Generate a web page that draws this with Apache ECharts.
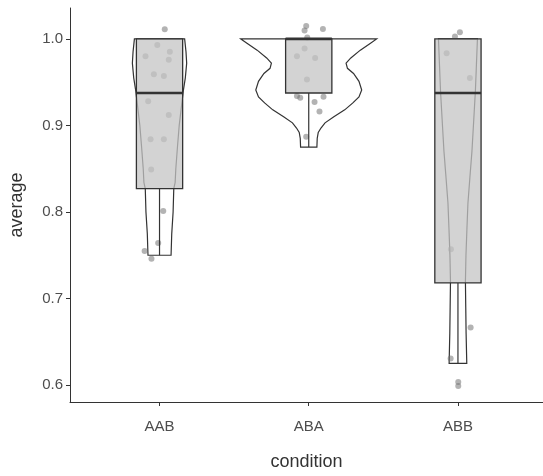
<!DOCTYPE html>
<html>
<head>
<meta charset="utf-8">
<script src="https://cdn.jsdelivr.net/npm/echarts@6/dist/echarts.min.js"></script>
<style>
  html, body { margin: 0; padding: 0; background: #fff; }
  #main { width: 543px; height: 476px; }
</style>
</head>
<body>
<div id="main"></div>
<script type="text/javascript">
    // 数据
    var categories = ['AAB', 'ABA', 'ABB'];
    var yTicks = [0.6, 0.7, 0.8, 0.9, 1.0];

    // box stats per condition
    var boxLower = [0.75, 0.875, 0.625];
    var boxQ1 = [0.827, 0.9375, 0.718];
    var boxMedian = [0.9375, 1.0, 0.9375];
    var boxQ3 = [1.0, 1.0, 1.0];
    var boxUpper = [1.0, 1.0, 1.0];

    // violin profiles: [value, relative density] from top to bottom
    var violinAAB = [[1.0, 0.37], [0.985, 0.39], [0.972, 0.40], [0.955, 0.38], [0.94, 0.35], [0.92, 0.32],
        [0.9, 0.29], [0.876, 0.265], [0.85, 0.24], [0.834, 0.23], [0.827, 0.21], [0.8, 0.20], [0.775, 0.18], [0.75, 0.17]];
    var violinABA = [[1.0, 1.0], [0.995, 0.91], [0.987, 0.76], [0.978, 0.62], [0.972, 0.55], [0.966, 0.57],
        [0.96, 0.66], [0.951, 0.74], [0.941, 0.78], [0.933, 0.74], [0.926, 0.65], [0.918, 0.53], [0.91, 0.37],
        [0.903, 0.24], [0.897, 0.18], [0.892, 0.14], [0.885, 0.125], [0.875, 0.12]];
    var violinABB = [[1.0, 0.287], [0.97, 0.272], [0.94, 0.257], [0.9, 0.228], [0.87, 0.206], [0.84, 0.176],
        [0.81, 0.147], [0.78, 0.132], [0.75, 0.118], [0.72, 0.11], [0.69, 0.115], [0.66, 0.12], [0.625, 0.13]];

    // jittered points [x, average]
    var pointsAAB = [[1.035, 1.011], [0.985, 0.993], [1.069, 0.985], [0.906, 0.980], [1.062, 0.976],
        [0.962, 0.959], [1.029, 0.957], [0.924, 0.928], [1.062, 0.912], [0.94, 0.884], [1.029, 0.884],
        [0.944, 0.849], [1.025, 0.801], [0.991, 0.764], [0.90, 0.755], [0.946, 0.746]];
    var pointsABA = [[1.983, 1.015], [1.972, 1.0096], [2.095, 1.0115], [1.99, 1.0015], [1.972, 0.989],
        [1.921, 0.980], [2.043, 0.978], [1.988, 0.953], [1.921, 0.934], [1.943, 0.932], [2.099, 0.933],
        [2.039, 0.927], [2.072, 0.916], [1.983, 0.887]];
    var pointsABB = [[3.013, 1.0077], [2.98, 1.0027], [2.924, 0.9835], [3.08, 0.9547], [2.953, 0.7568],
        [3.085, 0.6665], [2.951, 0.6308], [3.002, 0.6035], [3.002, 0.599]];

    var violins = [violinAAB, violinABA, violinABB];
    var maxHalf = 0.455;
    var boxHalf = 0.155;

    var myChart = echarts.init(document.getElementById('main'));
    var axisColor = '#333';
    var option = {
        animation: false,
        grid: { left: 69, right: 0, top: 8, bottom: 73 },
        xAxis: {
            type: 'value',
            min: 0.4,
            max: 3.57,
            name: 'condition',
            nameLocation: 'middle',
            nameGap: 51,
            nameTextStyle: { fontFamily: 'Liberation Sans', fontSize: 18, color: '#333' },
            axisLine: { show: true, onZero: false, lineStyle: { color: axisColor, width: 1 } },
            axisTick: { show: true, length: 4, customValues: [1, 2, 3], lineStyle: { color: axisColor } },
            axisLabel: {
                customValues: [1, 2, 3],
                margin: 17,
                fontFamily: 'Liberation Sans', fontSize: 15, color: '#4d4d4d',
                formatter: function (v) { return categories[Math.round(v) - 1]; }
            },
            splitLine: { show: false }
        },
        yAxis: {
            type: 'value',
            min: 0.5804,
            max: 1.0357,
            name: 'average',
            nameLocation: 'middle',
            nameGap: 44,
            nameTextStyle: { fontFamily: 'Liberation Sans', fontSize: 18, color: '#333' },
            axisLine: { show: true, onZero: false, lineStyle: { color: axisColor, width: 1 } },
            axisTick: { show: true, length: 4, customValues: yTicks, lineStyle: { color: axisColor } },
            axisLabel: {
                customValues: yTicks,
                margin: 7,
                fontFamily: 'Liberation Sans', fontSize: 15, color: '#4d4d4d',
                formatter: function (v) { return v.toFixed(1); }
            },
            splitLine: { show: false }
        },
        series: [
            {
                type: 'custom',
                z: 1,
                data: [[0], [1], [2]],
                renderItem: function (params, api) {
                    var gi = api.value(0);
                    var prof = violins[gi];
                    var cx = gi + 1;
                    var pts = [];
                    for (var i = 0; i < prof.length; i++) {
                        pts.push(api.coord([cx - prof[i][1] * maxHalf, prof[i][0]]));
                    }
                    for (var j = prof.length - 1; j >= 0; j--) {
                        pts.push(api.coord([cx + prof[j][1] * maxHalf, prof[j][0]]));
                    }
                    return {
                        type: 'polygon',
                        shape: { points: pts },
                        style: { fill: '#fff', stroke: '#333', lineWidth: 1.2 }
                    };
                }
            },
            {
                type: 'scatter',
                z: 2,
                symbolSize: 6,
                itemStyle: { color: 'rgba(110,110,110,0.65)' },
                data: pointsAAB.concat(pointsABA, pointsABB)
            },
            {
                type: 'custom',
                z: 3,
                data: [[0], [1], [2]],
                renderItem: function (params, api) {
                    var gi = api.value(0);
                    var cx = gi + 1;
                    var tl = api.coord([cx - boxHalf, boxQ3[gi]]);
                    var br = api.coord([cx + boxHalf, boxQ1[gi]]);
                    var lo = api.coord([cx, boxLower[gi]]);
                    var up = api.coord([cx, boxUpper[gi]]);
                    var q1c = api.coord([cx, boxQ1[gi]]);
                    var q3c = api.coord([cx, boxQ3[gi]]);
                    var ml = api.coord([cx - boxHalf, boxMedian[gi]]);
                    var mr = api.coord([cx + boxHalf, boxMedian[gi]]);
                    return {
                        type: 'group',
                        children: [
                            { type: 'line', shape: { x1: lo[0], y1: lo[1], x2: q1c[0], y2: q1c[1] }, style: { stroke: '#333', lineWidth: 1.2 } },
                            { type: 'line', shape: { x1: up[0], y1: up[1], x2: q3c[0], y2: q3c[1] }, style: { stroke: '#333', lineWidth: 1.2 } },
                            {
                                type: 'rect',
                                shape: { x: tl[0], y: tl[1], width: br[0] - tl[0], height: br[1] - tl[1] },
                                style: { fill: 'rgba(196,196,196,0.75)', stroke: '#333', lineWidth: 1.3 }
                            },
                            { type: 'line', shape: { x1: ml[0], y1: ml[1], x2: mr[0], y2: mr[1] }, style: { stroke: '#333', lineWidth: 2.6 } }
                        ]
                    };
                }
            }
        ]
    };
    myChart.setOption(option);
</script>
</body>
</html>
